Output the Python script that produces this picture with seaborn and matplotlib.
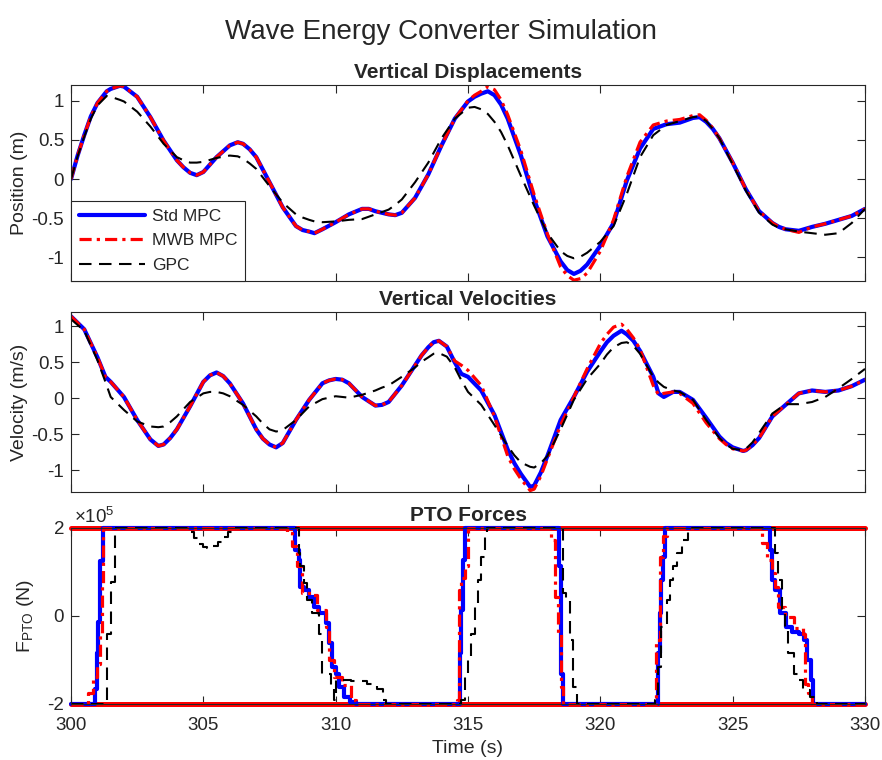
import numpy as np
import pandas as pd
import matplotlib
matplotlib.use("Agg")
import matplotlib.pyplot as plt
import seaborn as sns
from matplotlib.ticker import FixedLocator

# ---------------- data ----------------
t_pos = [300, 300.25, 300.5, 300.75, 301, 301.35, 301.5, 301.85, 302, 302.5, 303, 303.5, 304, 304.25,
         304.5, 304.75, 305, 305.5, 306, 306.3, 306.5, 306.75, 307, 307.5, 308, 308.5, 308.75, 309,
         309.2, 309.5, 310, 310.5, 311, 311.25, 311.5, 312, 312.25, 312.5, 313, 313.5, 314, 314.5,
         315, 315.25, 315.5, 315.75, 316, 316.25, 316.5, 317, 317.5, 318, 318.5, 318.75, 319, 319.25,
         319.5, 320, 320.5, 321, 321.5, 322, 322.5, 323, 323.5, 323.75, 324, 324.25, 324.5, 325,
         325.5, 326, 326.5, 326.75, 327, 327.5, 328, 328.5, 329, 329.5, 330]
pos_std = [0.00, 0.30, 0.56, 0.80, 0.97, 1.12, 1.15, 1.19, 1.18, 1.05, 0.79, 0.49, 0.24, 0.15,
           0.08, 0.05, 0.09, 0.28, 0.43, 0.47, 0.45, 0.38, 0.28, -0.04, -0.36, -0.60, -0.65, -0.67,
           -0.69, -0.64, -0.55, -0.45, -0.38, -0.38, -0.41, -0.45, -0.46, -0.43, -0.24, 0.06, 0.43, 0.77,
           0.99, 1.05, 1.09, 1.12, 1.07, 0.95, 0.77, 0.30, -0.26, -0.73, -1.05, -1.16, -1.21, -1.17,
           -1.09, -0.85, -0.56, -0.02, 0.39, 0.64, 0.70, 0.72, 0.78, 0.79, 0.73, 0.64, 0.52, 0.21,
           -0.13, -0.41, -0.56, -0.61, -0.64, -0.66, -0.61, -0.57, -0.52, -0.47, -0.38]
pos_mwb = [0.00, 0.30, 0.56, 0.80, 0.97, 1.12, 1.15, 1.19, 1.18, 1.05, 0.79, 0.49, 0.24, 0.15,
           0.08, 0.05, 0.09, 0.28, 0.43, 0.47, 0.45, 0.38, 0.28, -0.04, -0.36, -0.60, -0.65, -0.67,
           -0.69, -0.64, -0.55, -0.45, -0.38, -0.38, -0.41, -0.45, -0.46, -0.43, -0.24, 0.06, 0.43, 0.77,
           1.00, 1.07, 1.12, 1.18, 1.14, 1.01, 0.82, 0.36, -0.20, -0.70, -1.12, -1.23, -1.29, -1.27,
           -1.20, -0.92, -0.52, 0.03, 0.47, 0.69, 0.74, 0.76, 0.81, 0.82, 0.75, 0.65, 0.52, 0.21,
           -0.13, -0.41, -0.56, -0.61, -0.64, -0.68, -0.61, -0.57, -0.52, -0.47, -0.38]
pos_gpc = [0.00, 0.29, 0.54, 0.77, 0.94, 1.06, 1.05, 1.01, 0.99, 0.86, 0.67, 0.45, 0.28, 0.24,
           0.21, 0.21, 0.22, 0.27, 0.30, 0.29, 0.26, 0.20, 0.13, -0.09, -0.30, -0.45, -0.49, -0.52,
           -0.54, -0.55, -0.54, -0.52, -0.51, -0.48, -0.45, -0.39, -0.33, -0.26, -0.04, 0.21, 0.52, 0.77,
           0.91, 0.92, 0.89, 0.83, 0.73, 0.60, 0.43, 0.04, -0.34, -0.69, -0.92, -0.98, -1.01, -0.99,
           -0.94, -0.80, -0.60, -0.19, 0.28, 0.56, 0.69, 0.74, 0.79, 0.80, 0.74, 0.64, 0.52, 0.19,
           -0.15, -0.43, -0.58, -0.62, -0.64, -0.67, -0.69, -0.71, -0.69, -0.56, -0.38]

t_vel = [300, 300.5, 301, 301.3, 301.5, 302, 302.5, 303, 303.3, 303.5, 303.75, 304, 304.5, 305,
         305.25, 305.5, 305.75, 306, 306.5, 307, 307.25, 307.5, 307.75, 308, 308.5, 309, 309.5,
         309.75, 310, 310.25, 310.5, 311, 311.5, 311.75, 312, 312.5, 313, 313.25, 313.5, 313.7,
         313.9, 314.2, 314.5, 314.75, 315, 315.5, 316, 316.5, 316.75, 317, 317.35, 317.5, 317.75,
         318, 318.5, 319, 319.5, 320, 320.25, 320.5, 320.8, 321, 321.25, 321.5, 322, 322.2, 322.4,
         322.75, 323, 323.5, 324, 324.5, 324.75, 325, 325.4, 325.5, 325.75, 326, 326.5, 327, 327.5,
         328, 328.5, 329, 329.5, 330]
vel_std = [1.14, 0.96, 0.57, 0.30, 0.23, 0.02, -0.30, -0.57, -0.66, -0.64, -0.55, -0.43, -0.11, 0.23,
           0.32, 0.36, 0.31, 0.21, -0.07, -0.43, -0.56, -0.64, -0.68, -0.62, -0.30, -0.02, 0.21,
           0.25, 0.27, 0.26, 0.21, 0.02, -0.10, -0.09, -0.05, 0.18, 0.46, 0.60, 0.71, 0.78,
           0.80, 0.72, 0.50, 0.34, 0.30, 0.11, -0.23, -0.71, -0.90, -1.05, -1.23, -1.21, -1.03,
           -0.80, -0.30, 0.02, 0.37, 0.65, 0.78, 0.87, 0.94, 0.89, 0.80, 0.66, 0.30, 0.07, 0.02,
           0.09, 0.09, -0.02, -0.27, -0.53, -0.62, -0.68, -0.73, -0.72, -0.65, -0.55, -0.25, -0.09, 0.07,
           0.11, 0.09, 0.11, 0.17, 0.26]
vel_mwb = [1.14, 0.96, 0.57, 0.30, 0.23, 0.02, -0.30, -0.57, -0.66, -0.64, -0.55, -0.43, -0.11, 0.23,
           0.32, 0.36, 0.31, 0.21, -0.07, -0.43, -0.56, -0.64, -0.68, -0.62, -0.30, -0.02, 0.21,
           0.25, 0.27, 0.26, 0.21, 0.02, -0.10, -0.09, -0.05, 0.18, 0.46, 0.60, 0.71, 0.78,
           0.80, 0.72, 0.52, 0.46, 0.39, 0.18, -0.25, -0.80, -0.98, -1.12, -1.28, -1.26, -1.08,
           -0.84, -0.37, 0.02, 0.41, 0.76, 0.89, 0.99, 1.03, 0.96, 0.84, 0.68, 0.18, 0.05, 0.07,
           0.09, 0.07, -0.07, -0.34, -0.56, -0.64, -0.70, -0.73, -0.72, -0.65, -0.55, -0.25, -0.09, 0.07,
           0.11, 0.09, 0.11, 0.17, 0.26]
vel_gpc = [1.10, 0.94, 0.53, 0.23, 0.02, -0.16, -0.32, -0.39, -0.40, -0.39, -0.33, -0.25, -0.05, 0.07,
           0.09, 0.09, 0.07, 0.03, -0.09, -0.25, -0.35, -0.43, -0.46, -0.44, -0.30, -0.11, -0.01,
           0.01, 0.03, 0.02, 0.01, 0.05, 0.11, 0.15, 0.18, 0.30, 0.43, 0.51, 0.57, 0.62,
           0.63, 0.58, 0.43, 0.25, 0.09, -0.09, -0.37, -0.66, -0.79, -0.89, -0.95, -0.96, -0.90,
           -0.80, -0.43, -0.02, 0.27, 0.48, 0.61, 0.71, 0.77, 0.78, 0.73, 0.62, 0.30, 0.22, 0.16,
           0.11, 0.09, -0.02, -0.30, -0.55, -0.64, -0.70, -0.72, -0.70, -0.61, -0.48, -0.21, -0.08, -0.08,
           -0.05, 0.02, 0.14, 0.27, 0.41]

# PTO force (units of 1e5 N), piecewise constant (value holds until the next time)
t_f_std = [300, 300.91, 300.97, 301.01, 301.1, 301.22, 308.48, 308.6, 308.67, 308.8, 308.99, 309.18,
           309.37, 309.62, 309.75, 309.87, 310.0, 310.13, 310.31, 310.55, 310.75, 314.68, 314.74,
           314.8, 314.9, 318.45, 318.52, 318.58, 322.19, 322.25, 322.31, 322.38, 322.46, 326.41,
           326.47, 326.6, 326.8, 327.0, 327.25, 327.5, 327.7, 327.82, 327.95, 328.05, 330]
f_std = [-2.0, -1.66, -0.85, -0.13, 1.24, 2.0, 1.5, 1.28, 0.67, 0.59, 0.44, 0.21,
         0.06, -0.17, -0.62, -1.16, -1.31, -1.62, -1.85, -1.96, -2.0, -0.85, 0.14,
         1.28, 2.0, 1.13, -1.31, -2.0, -0.85, 0.06, 0.82, 1.35, 2.0, 1.5,
         0.82, 0.59, 0.06, -0.24, -0.36, -0.40, -0.55, -1.0, -1.46, -2.0, -2.0]
t_f_mwb = [300, 300.66, 300.85, 300.97, 301.1, 301.16, 301.22, 308.17, 308.36, 308.55, 308.74, 309.05,
           309.3, 309.62, 309.75, 309.93, 310.25, 310.57, 310.75, 314.6, 314.66, 314.74, 314.9, 315.0,
           318.15, 318.28, 318.4, 318.53, 318.6, 322.12, 322.25, 322.38, 322.5, 326.1, 326.3, 326.47,
           326.6, 326.73, 326.98, 327.3, 327.67, 327.74, 327.86, 327.99, 330]
f_mwb = [-2.0, -1.76, -1.38, -1.08, -0.40, 0.75, 2.0, 1.89, 1.58, 1.13, 0.52, 0.48,
         0.14, -0.24, -1.0, -1.38, -1.57, -1.92, -2.0, -1.92, 0.59, 0.86, 1.13, 2.0,
         1.73, 0.44, -0.40, -1.61, -2.0, -0.55, 1.35, 1.81, 2.0, 1.66, 1.28, 0.97,
         0.67, 0.21, -0.02, -0.28, -0.40, -1.54, -1.76, -2.0, -2.0]
t_f_gpc = [300, 301.3, 301.35, 301.5, 301.65, 304.52, 304.65, 304.8, 305.0, 305.15, 305.35, 305.55,
           305.75, 305.95, 306.2, 308.61, 308.67, 308.8, 308.93, 309.12, 309.37, 309.5, 309.81,
           309.94, 310.0, 310.06, 310.57, 311.2, 311.58, 311.77, 311.9, 314.75, 314.87, 315.0,
           315.13, 315.25, 315.38, 315.5, 315.63, 315.7, 318.6, 318.72, 318.85, 318.98, 319.1,
           322.06, 322.19, 322.31, 322.5, 322.63, 322.76, 322.88, 323.07, 323.32, 323.45, 326.6,
           326.73, 326.85, 326.98, 327.1, 327.3, 327.48, 327.67, 327.93, 328.17, 330]
f_gpc = [-2.0, -1.92, -0.40, 0.78, 2.0, 1.9, 1.78, 1.64, 1.56, 1.54, 1.58, 1.68,
         1.8, 1.92, 2.0, 1.43, 1.13, 0.75, 0.37, 0.06, -0.40, -1.31, -1.61,
         -1.9, -1.46, -1.46, -1.48, -1.55, -1.65, -1.92, -2.0, -1.92, -1.38, -1.0,
         -0.40, 0.21, 0.82, 1.35, 1.89, 2.0, 0.52, 0.37, -0.55, -1.61, -2.0,
         -1.92, -1.16, -0.24, 0.37, 0.82, 1.13, 1.43, 1.73, 1.96, 2.0, 1.43,
         0.82, 0.14, -0.32, -0.85, -1.31, -1.46, -1.69, -1.85, -2.0, -2.0]
f_limits = [-2.0, 2.0]
f_scale = 1e5

labels = ["Std MPC", "MWB MPC", "GPC"]
x_ticks = [300, 305, 310, 315, 320, 325, 330]
f_ticks = [-2, 0, 2]
f_tick_labels = ["-2", "0", "2"]

for a, b in [(t_pos, pos_std), (t_pos, pos_mwb), (t_pos, pos_gpc), (t_vel, vel_std),
             (t_vel, vel_mwb), (t_vel, vel_gpc), (t_f_std, f_std), (t_f_mwb, f_mwb), (t_f_gpc, f_gpc)]:
    assert len(a) == len(b), (len(a), len(b))

# ---------------- style ----------------
sns.set_theme(style="ticks")
plt.rcParams["font.family"] = ["Liberation Sans", "DejaVu Sans"]
plt.rcParams["mathtext.fontset"] = "custom"
plt.rcParams["mathtext.rm"] = "Liberation Sans"
plt.rcParams["axes.unicode_minus"] = False
dark = "#262626"

fig = plt.figure(figsize=(8.82, 7.6), dpi=100)
L, W = 71 / 882, (865 - 71) / 882
ax1 = fig.add_axes([L, 1 - 281 / 760, W, (281 - 85) / 760])
ax2 = fig.add_axes([L, 1 - 492 / 760, W, (492 - 312) / 760])
ax3 = fig.add_axes([L, 1 - 704 / 760, W, (704 - 528) / 760])

sty_std = dict(color="blue", linewidth=3.0, linestyle="-")
sty_mwb = dict(color="red", linewidth=2.3, linestyle=(0, (3.8, 1.6, 1.0, 1.6)))
sty_gpc = dict(color="black", linewidth=1.5, linestyle=(0, (6.0, 3.6)))


def draw(ax, t, ys, steps=False):
    for y, sty, lab in zip(ys, [sty_std, sty_mwb, sty_gpc], labels):
        kw = dict(sty)
        if steps:
            kw["drawstyle"] = "steps-post"
            kw["clip_on"] = False
        else:
            kw["solid_joinstyle"] = "round"
            kw["dash_joinstyle"] = "round"
        sns.lineplot(x=t[lab] if isinstance(t, dict) else t, y=y, ax=ax, estimator=None,
                     sort=False, label=lab, legend=False, **kw)


draw(ax1, t_pos, [pos_std, pos_mwb, pos_gpc])
draw(ax2, t_vel, [vel_std, vel_mwb, vel_gpc])

for lim in f_limits:
    ax3.axhline(lim * f_scale, color="red", linewidth=3.6, clip_on=False, zorder=1.5)
t_force = {"Std MPC": t_f_std, "MWB MPC": t_f_mwb, "GPC": t_f_gpc}
draw(ax3, t_force, [np.array(f_std) * f_scale, np.array(f_mwb) * f_scale, np.array(f_gpc) * f_scale],
     steps=True)

for ax in (ax1, ax2, ax3):
    ax.set_xlim(300, 330)
    ax.xaxis.set_major_locator(FixedLocator(x_ticks))
    ax.tick_params(direction="in", length=6, width=0.8, top=True, right=True,
                   labelsize=13.5, colors=dark, pad=5)
    for s in ax.spines.values():
        s.set_color(dark)
        s.set_linewidth(0.8)
    ax.set_xlabel("")
    ax.set_facecolor("white")
ax3.tick_params(axis="x", pad=9)

for ax in (ax1, ax2):
    ax.set_ylim(-1.3, 1.2)
    ax.set_yticks([-1, -0.5, 0, 0.5, 1])
    ax.set_yticklabels(["-1", "-0.5", "0", "0.5", "1"])
    ax.tick_params(labelbottom=False)

ax3.set_ylim(f_limits[0] * f_scale, f_limits[1] * f_scale)
ax3.set_yticks([v * f_scale for v in f_ticks])
ax3.set_yticklabels(f_tick_labels)
ax3.text(0.004, 1.008, r"$\times$10$^{5}$", transform=ax3.transAxes, ha="left", va="bottom",
         fontsize=13.5, color=dark)

ax1.set_title("Vertical Displacements", fontsize=15, fontweight="bold", pad=5)
ax2.set_title("Vertical Velocities", fontsize=15, fontweight="bold", pad=5)
ax3.set_title("PTO Forces", fontsize=15, fontweight="bold", pad=5)
ax1.set_ylabel("Position (m)", fontsize=14, color=dark)
ax2.set_ylabel("Velocity (m/s)", fontsize=14, color=dark)
ax3.set_ylabel(r"$\mathregular{F_{PTO}}$ (N)", fontsize=14, color=dark)
ax1.yaxis.set_label_coords(-0.054, 0.5)
ax2.yaxis.set_label_coords(-0.054, 0.5)
ax3.yaxis.set_label_coords(-0.044, 0.5)
ax3.set_xlabel("Time (s)", fontsize=14, color=dark, labelpad=5)

leg = ax1.legend(loc="lower left", fontsize=12.5, frameon=True, fancybox=False,
                 edgecolor=dark, framealpha=1, borderaxespad=0, handlelength=3.8,
                 handletextpad=0.4, borderpad=0.45, labelspacing=0.55)
leg.get_frame().set_linewidth(0.8)

fig.suptitle("Wave Energy Converter Simulation", fontsize=20, y=0.975)

fig.savefig("out.png", dpi=100, facecolor="white")
